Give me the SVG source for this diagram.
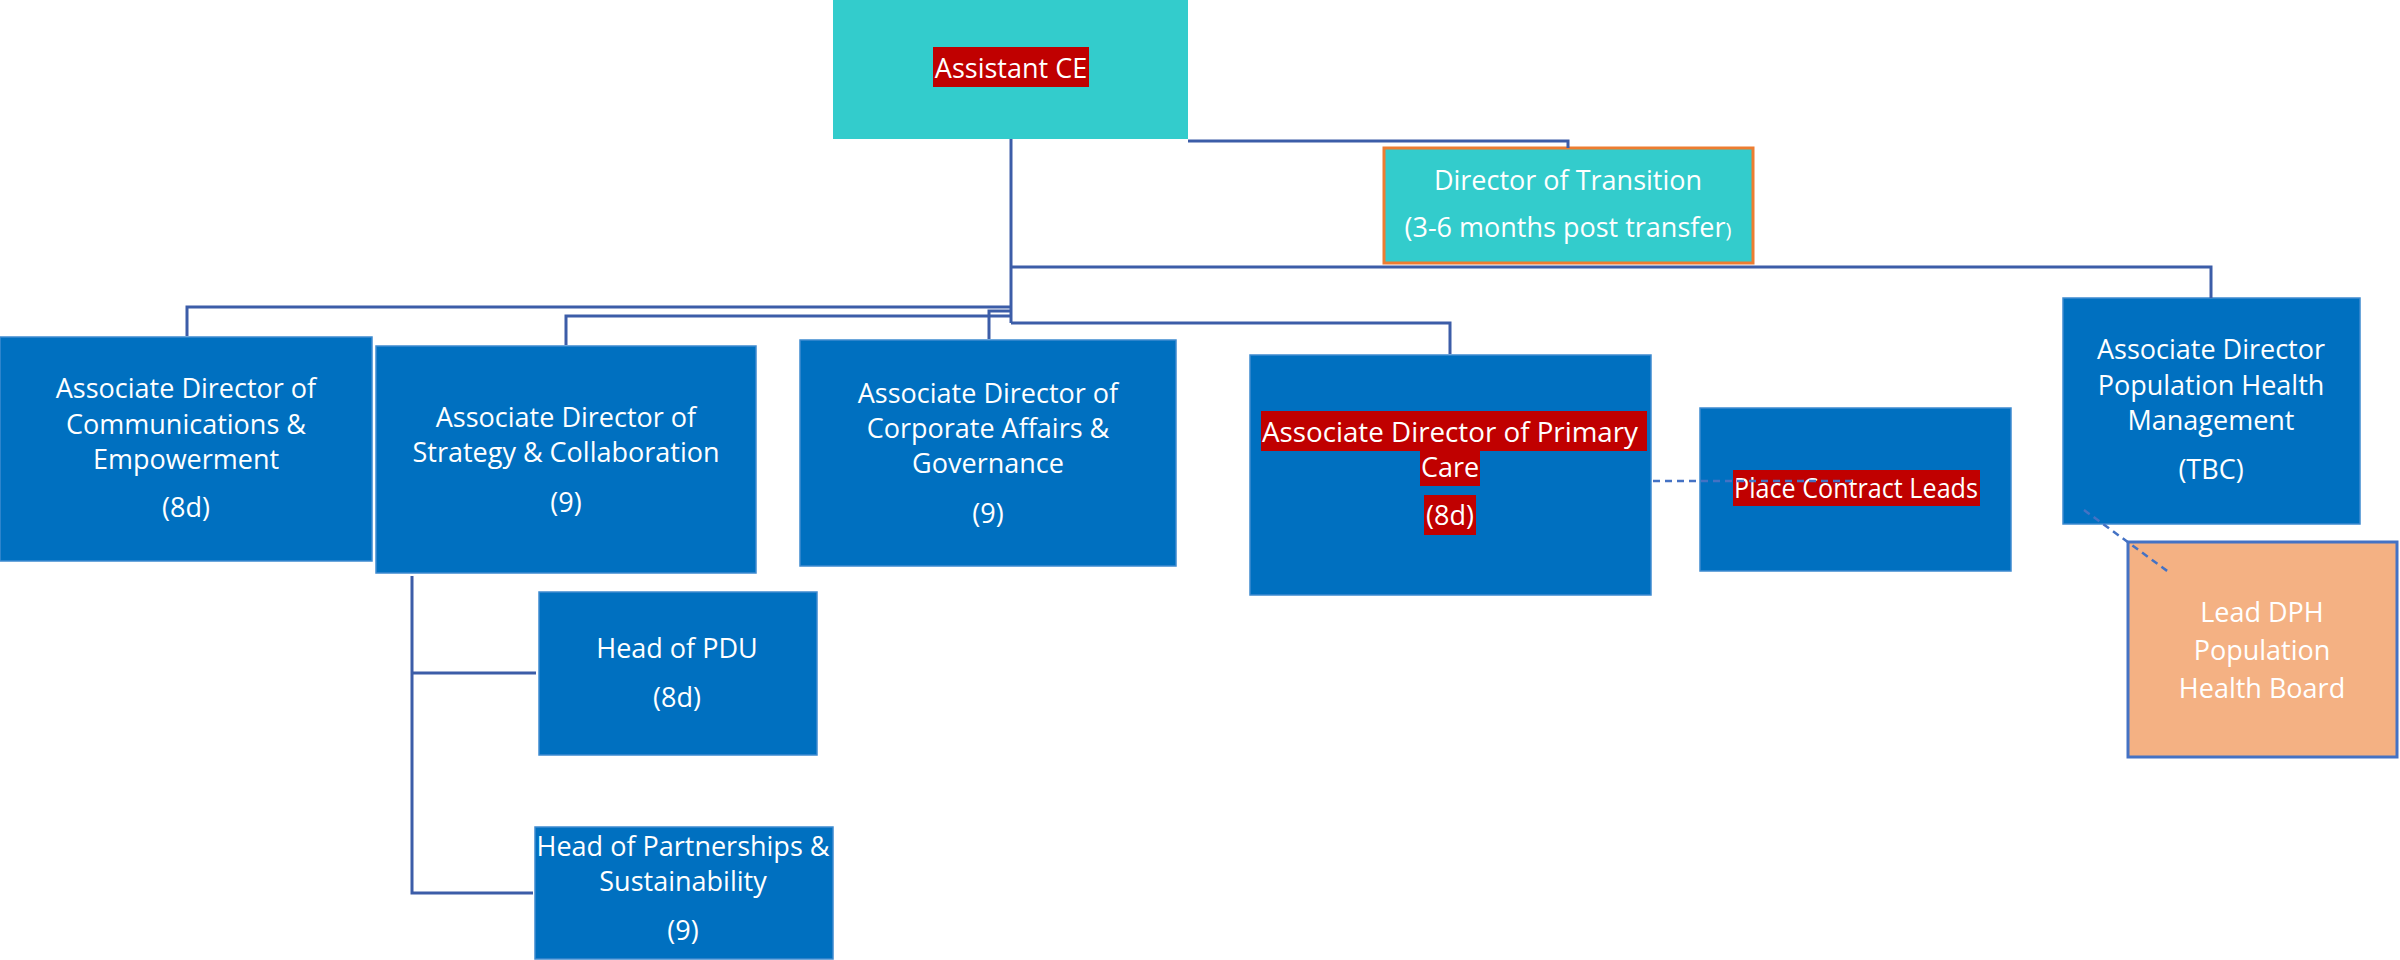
<svg xmlns="http://www.w3.org/2000/svg" width="2400" height="960" viewBox="0 0 2400 960">
  <style>
    .teal { fill: #33CCCC; }
    .blue { fill: #0070C0; stroke: #3E8AD0; stroke-width: 1.5; }
    .hl { fill: #C00000; }
    .t { font-family: "Open Sans", "Liberation Sans", sans-serif; font-size: 27px; fill: #FFFFFF; text-anchor: middle; }
    .ts { font-family: "Open Sans", "Liberation Sans", sans-serif; font-size: 27px; fill: #FFFFFF; text-anchor: start; }
    .conn { fill: none; stroke: #3C5DA8; stroke-width: 3; }
    .dash { fill: none; stroke: #4472C4; stroke-width: 2.5; stroke-dasharray: 7 5; }
  </style>
  <rect width="2400" height="960" fill="#FFFFFF"/>

  <g id="node-assistant-ce">
    <rect class="teal" x="833" y="-2" width="355" height="141"/>
    <rect class="hl" x="933" y="47" width="156" height="40"/>
    <text class="t" x="1011" y="78">Assistant CE</text>
  </g>

  <g id="node-director-transition">
    <rect class="teal" x="1384" y="148" width="369" height="115" stroke="#ED7D31" stroke-width="3"/>
    <text class="t" x="1568" y="190">Director of Transition</text>
    <text class="t" x="1568" y="237">(3-6 months post transfer<tspan font-size="20">)</tspan></text>
  </g>

  <g id="node-comms">
    <rect class="blue" x="0" y="337" width="372" height="224"/>
    <text class="t" x="186" y="398">Associate Director of</text>
    <text class="t" x="186" y="434">Communications &amp;</text>
    <text class="t" x="186" y="469">Empowerment</text>
    <text class="t" x="186" y="517">(8d)</text>
  </g>

  <g id="node-strategy">
    <rect class="blue" x="376" y="346" width="380" height="227"/>
    <text class="t" x="566" y="427">Associate Director of</text>
    <text class="t" x="566" y="462">Strategy &amp; Collaboration</text>
    <text class="t" x="566" y="512">(9)</text>
  </g>

  <g id="node-corporate">
    <rect class="blue" x="800" y="340" width="376" height="226"/>
    <text class="t" x="988" y="403">Associate Director of</text>
    <text class="t" x="988" y="438">Corporate Affairs &amp;</text>
    <text class="t" x="988" y="473">Governance</text>
    <text class="t" x="988" y="523">(9)</text>
  </g>

  <g id="node-primary-care">
    <rect class="blue" x="1250" y="355" width="401" height="240"/>
    <rect class="hl" x="1261" y="411" width="386" height="40"/>
    <rect class="hl" x="1420" y="451" width="60" height="35"/>
    <rect class="hl" x="1424" y="495" width="52" height="40"/>
    <text class="ts" x="1262" y="442" textLength="376" lengthAdjust="spacingAndGlyphs">Associate Director of Primary</text>
    <text class="t" x="1450" y="477">Care</text>
    <text class="t" x="1450" y="525">(8d)</text>
  </g>

  <g id="node-place-contract-leads">
    <rect class="blue" x="1700" y="408" width="311" height="163"/>
    <rect class="hl" x="1733" y="470" width="247" height="36"/>
    <text class="ts" x="1734" y="498" textLength="244" lengthAdjust="spacingAndGlyphs">Place Contract Leads</text>
  </g>

  <g id="node-population-health">
    <rect class="blue" x="2063" y="298" width="297" height="226"/>
    <text class="t" x="2211" y="359">Associate Director</text>
    <text class="t" x="2211" y="395">Population Health</text>
    <text class="t" x="2211" y="430">Management</text>
    <text class="t" x="2211" y="479">(TBC)</text>
  </g>

  <g id="node-lead-dph">
    <rect x="2128" y="542" width="269" height="215" fill="#F4B183" stroke="#4472C4" stroke-width="3"/>
    <text class="t" x="2262" y="622">Lead DPH</text>
    <text class="t" x="2262" y="660">Population</text>
    <text class="t" x="2262" y="698">Health Board</text>
  </g>

  <g id="node-head-pdu">
    <rect class="blue" x="539" y="592" width="278" height="163"/>
    <text class="t" x="677" y="658">Head of PDU</text>
    <text class="t" x="677" y="707">(8d)</text>
  </g>

  <g id="node-head-partnerships">
    <rect class="blue" x="535" y="827" width="298" height="132"/>
    <text class="t" x="683" y="856">Head of Partnerships &amp;</text>
    <text class="t" x="683" y="891">Sustainability</text>
    <text class="t" x="683" y="940">(9)</text>
  </g>

  <g id="connectors">
    <polyline class="conn" points="1188,141 1568,141 1568,148"/>
    <polyline class="conn" points="1011,139 1011,323"/>
    <polyline class="conn" points="1011,267 2211,267 2211,298"/>
    <polyline class="conn" points="1011,307 187,307 187,336"/>
    <polyline class="conn" points="1011,316 566,316 566,345"/>
    <polyline class="conn" points="1011,311 989,311 989,339"/>
    <polyline class="conn" points="1011,323 1450,323 1450,354"/>
    <polyline class="conn" points="412,576 412,893 533,893"/>
    <polyline class="conn" points="412,673 536,673"/>
    <line class="dash" x1="1653" y1="481" x2="1853" y2="481"/>
    <line class="dash" x1="2084" y1="510" x2="2170" y2="573"/>
  </g>
</svg>
